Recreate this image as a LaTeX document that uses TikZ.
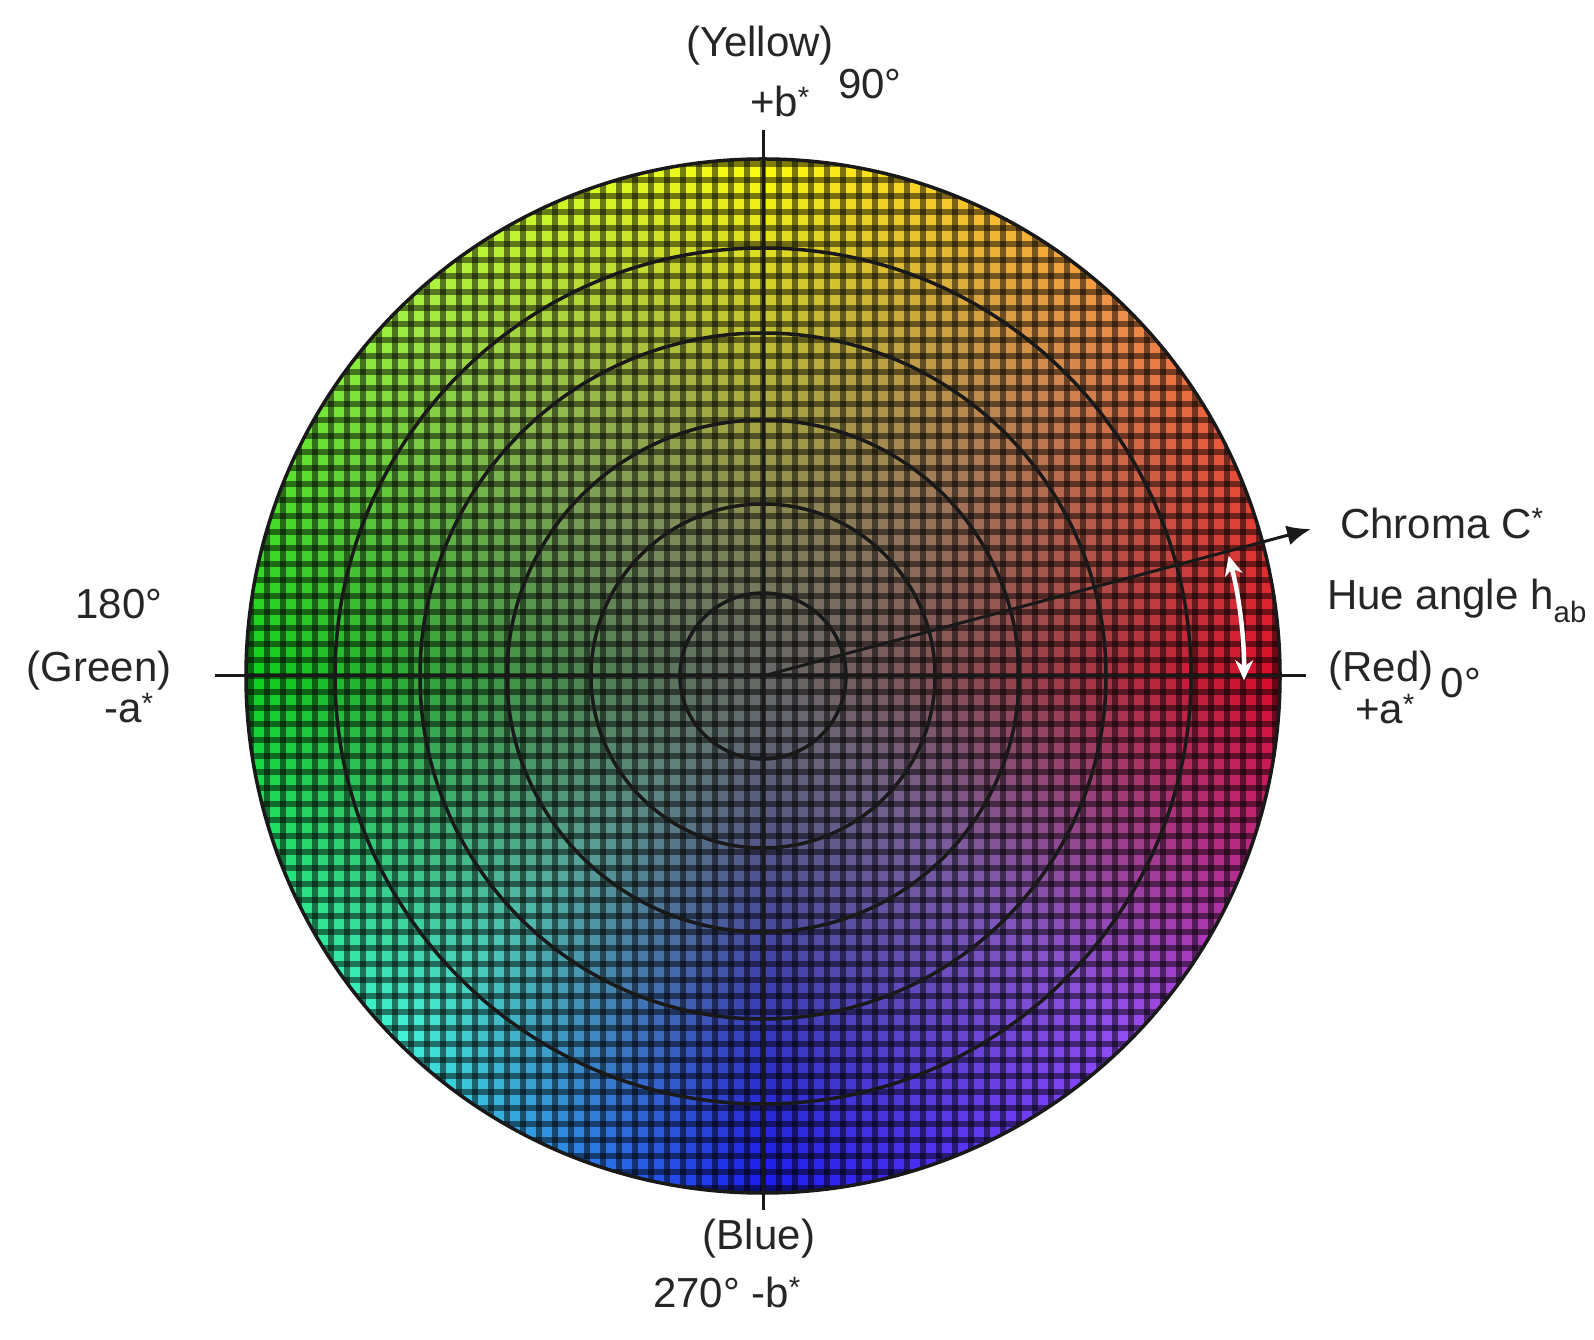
\documentclass[tikz,border=0pt]{standalone}
\usepackage{fontspec}
\setmainfont{Liberation Sans}
\usetikzlibrary{arrows.meta}
\newcommand\sstar{\textsuperscript{*}}
\def\CX{763}\def\CY{663}\def\RR{517}
\def\ArR{{0.86,0.95,1.00,0.64,0.04,0.25,0.10,0.58,0.86}}
\def\ArG{{0.04,0.56,1.00,0.95,0.82,0.96,0.10,0.30,0.04}}
\def\ArB{{0.16,0.28,0.05,0.25,0.10,0.85,0.95,0.97,0.16}}
\tikzset{
  lbl/.style={font=\fontsize{42}{50}\selectfont, inner sep=0pt, text=black!85},
  gridline/.style={black, opacity=0.5, line width=5.5pt},
  ring/.style={black!90, line width=3.5pt},
  axis/.style={black!90, line width=3pt},
  chroma/.style={black!90, line width=3pt, -{Latex[length=24pt,width=20pt]}},
  huearrow/.style={white, line width=4.5pt, {Stealth[length=20pt,width=18pt]}-{Stealth[length=20pt,width=18pt]}}
}
\begin{document}
\begin{tikzpicture}[x=1pt,y=1pt]
\useasboundingbox (0,0) rectangle (1594,1339);
\fill[white] (0,0) rectangle (1594,1339);
\coordinate (C) at (\CX,\CY);
\begin{scope}
\clip (C) circle (\RR);
\foreach \i in {-33,...,32}{
  \foreach \j in {-33,...,32}{
    \pgfmathsetmacro\qx{(\i+0.5)*16}
    \pgfmathsetmacro\qy{(\j+0.5)*16}
    \pgfmathsetmacro\qr{veclen(\qx,\qy)}
    \ifdim\qr pt<532pt
      \pgfmathsetmacro\qa{mod(atan2(\qy,\qx)+360,360)}
      \pgfmathtruncatemacro\qk{min(\qa/45,7)}
      \pgfmathtruncatemacro\qn{\qk+1}
      \pgfmathsetmacro\qf{(\qa-45*\qk)/45}
      \pgfmathsetmacro\qt{min(\qr/\RR,1)^1.25}
      \pgfmathsetmacro\colR{0.40*(1-\qt)+\qt*(\ArR[\qk]*(1-\qf)+\ArR[\qn]*\qf)}
      \pgfmathsetmacro\colG{0.41*(1-\qt)+\qt*(\ArG[\qk]*(1-\qf)+\ArG[\qn]*\qf)}
      \pgfmathsetmacro\colB{0.40*(1-\qt)+\qt*(\ArB[\qk]*(1-\qf)+\ArB[\qn]*\qf)}
      \definecolor{cellc}{rgb}{\colR,\colG,\colB}
      \fill[cellc] (\CX+\qx-8.4,\CY+\qy-8.4) rectangle ++(16.8,16.8);
    \fi
  }
}
\foreach \k in {-33,...,33}{
  \draw[gridline] (\CX+\k*16,\CY-530) -- ++(0,1060);
  \draw[gridline] (\CX-530,\CY+\k*16) -- ++(1060,0);
}
\end{scope}
% rings
\draw[ring] (C) circle (\RR);
\foreach \rad in {83,172,256,343,428}{
  \draw[ring] (C) circle (\rad);
}
% axes
\coordinate (axL) at (215,\CY);
\coordinate (axR) at (1306,\CY);
\coordinate (axT) at (\CX,1209);
\coordinate (axB) at (\CX,129);
\draw[axis] (axL) -- (axR);
\draw[axis] (axT) -- (axB);
% chroma arrow
\coordinate (chromaEnd) at (1311,810);
\draw[chroma] (C) -- (chromaEnd);
% hue angle arrow
\draw[huearrow] ([shift={(-0.5:481)}]C) arc[start angle=-0.5,end angle=14.5,radius=481];
% labels
\node[lbl] (yellow) at (760,1293) {(Yellow)};
\node[lbl] (pb) at (780,1237) {+b\sstar};
\node[lbl] (d90) at (870,1255) {90°};
\node[lbl] (d180) at (119,735) {180°};
\node[lbl] (green) at (99,668) {(Green)};
\node[lbl] (ma) at (129,631) {-a\sstar};
\node[lbl] (red) at (1381,668) {(Red)};
\node[lbl] (d0) at (1461,656) {0°};
\node[lbl] (pa) at (1385,630) {+a\sstar};
\node[lbl, anchor=west] (chroma) at (1340,816) {Chroma C\sstar};
\node[lbl, anchor=west] (hue) at (1327,738) {Hue angle h\textsubscript{ab}};
\node[lbl] (blue) at (759,100) {(Blue)};
\node[lbl] (d270) at (727,47) {270° -b\sstar};
\end{tikzpicture}
\end{document}
